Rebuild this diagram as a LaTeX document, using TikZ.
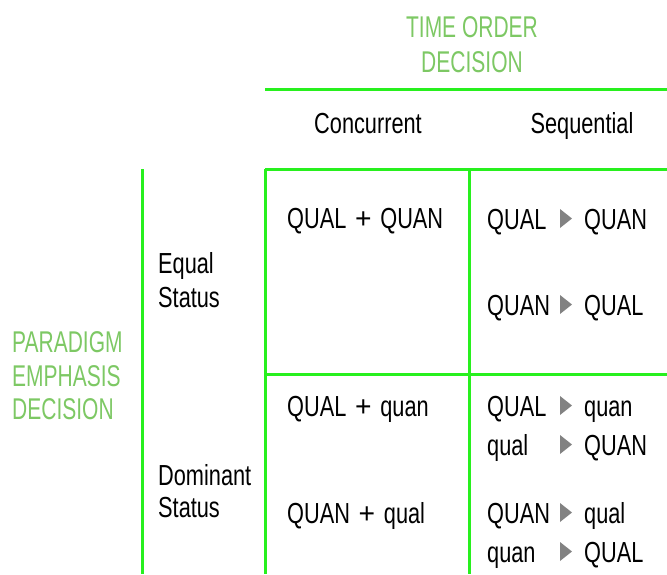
\documentclass[tikz,border=0pt]{standalone}
\usepackage{fontspec}
\setmainfont[FakeStretch=0.75]{Liberation Sans}
\newfontfamily\greenfont[FakeStretch=0.7]{Liberation Sans}
\definecolor{linegreen}{RGB}{40,240,30}
\definecolor{textgreen}{RGB}{125,200,100}
\definecolor{trigray}{RGB}{130,130,130}
\newcommand{\plussep}{\hspace{0.3em}\scalebox{1.3}[1]{+}\hspace{0.3em}}
\begin{document}
\begin{tikzpicture}[x=1pt,y=-1pt,
  gridline/.style={draw=linegreen,line width=3pt},
  bodytext/.style={inner sep=0pt,anchor=base west,font=\fontsize{29}{33}\selectfont,text=black},
  headtext/.style={inner sep=0pt,anchor=base,font=\fontsize{29}{33}\selectfont,text=black},
  greentext/.style={inner sep=0pt,font=\greenfont\fontsize{30}{33.5}\selectfont,text=textgreen},
  tri/.style={fill=trigray}]
\useasboundingbox (0,0) rectangle (667,574);
% lines
\draw[gridline] (265,89) -- (667,89);
\draw[gridline] (265,169) -- (667,169);
\draw[gridline] (265,374) -- (667,374);
\draw[gridline] (265,169) -- (265,574);
\draw[gridline] (469,169) -- (469,574);
\draw[gridline] (142,169) -- (142,574);
% green headings
\node[greentext,anchor=base] (t1) at (472,37) {TIME ORDER};
\node[greentext,anchor=base] (t2) at (472,72) {DECISION};
\node[greentext,anchor=base west] (p1) at (12,352) {PARADIGM};
\node[greentext,anchor=base west] (p2) at (12,386) {EMPHASIS};
\node[greentext,anchor=base west] (p3) at (12,419) {DECISION};
% column heads
\node[headtext] (conc) at (368,133) {Concurrent};
\node[headtext] (seq) at (582,133) {Sequential};
% row heads
\node[bodytext] (eq1) at (158,273) {Equal};
\node[bodytext] (eq2) at (158,307) {Status};
\node[bodytext] (dom1) at (158,485) {Dominant};
\node[bodytext] (dom2) at (158,517) {Status};
% concurrent cells
\node[bodytext] (c1) at (287,228) {QUAL\plussep QUAN};
\node[bodytext] (c2) at (287,416) {QUAL\plussep quan};
\node[bodytext] (c3) at (287,523) {QUAN\plussep qual};
% sequential cells
\foreach \n/\b/\l/\r in {s1/229/QUAL/QUAN, s2/315/QUAN/QUAL, s3/416/QUAL/quan, s4/455/qual/QUAN, s5/523/QUAN/qual, s6/562/quan/QUAL}{
  \node[bodytext] (\n l) at (487,\b) {\l};
  \node[bodytext] (\n r) at (584,\b) {\r};
  \fill[tri] (560,\b-20) -- (572,\b-10.5) -- (560,\b-1) -- cycle;
}
\end{tikzpicture}
\end{document}
